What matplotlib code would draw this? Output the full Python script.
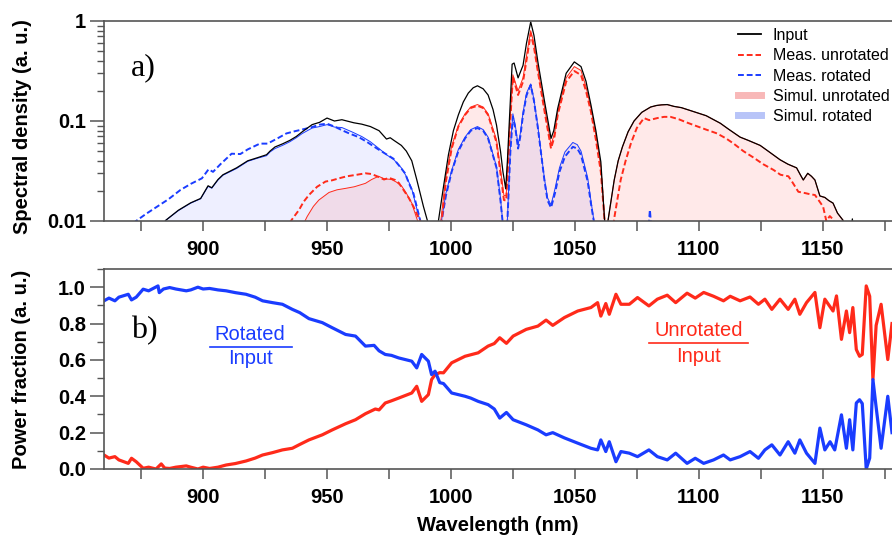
import numpy as np
import matplotlib.pyplot as plt
from matplotlib.lines import Line2D
from matplotlib.ticker import MultipleLocator, FixedLocator, LogLocator, NullFormatter

plt.rcParams['font.family'] = ['Liberation Sans', 'DejaVu Sans']
nan = np.nan

# ---- a) spectra (nan separates the spectral bands) ----
input_wl = [884, 885, 890, 895, 899, 902, 903.5, 906, 908, 913.5, 918, 922, 925.6, 927, 929, 932, 935, 937.6,
            940, 944, 947, 950, 953, 956, 960.8, 964, 967.5, 971, 974, 975.5, 977, 980, 982, 984.2, 986.2,
            988.9, 990.6, 991.2, nan,
            994.5, 995, 997, 999, 1001, 1003, 1005, 1007, 1009, 1010.7, 1013, 1015, 1017, 1018.4, 1020, 1021,
            1022.1, 1022.8, 1023.7, 1024.7, 1025.5, 1027.1, 1029.1, 1030.5, 1032.2, 1033.5, 1035.1, 1037.8,
            1040.4, 1041.5, 1043.1, 1046.5, 1049.8, 1052.5, 1054.5, 1056.5, 1058.5, 1060.5, 1062, 1062.3, nan,
            1062.8, 1063.5, 1065.9, 1067.5, 1069.2, 1071.5, 1073.9, 1077, 1080.6, 1083, 1085, 1087.3, 1090,
            1093, 1098, 1103, 1108.7, 1112, 1116.7, 1120, 1124.8, 1128, 1132.8, 1136, 1139.5, 1141, 1142.2,
            1144, 1145.5, 1146.9, 1148.9, 1150.9, 1152.5, 1154.2, 1156, 1158.2, 1159, nan,
            1161.5, 1162, 1162.5]
input_val = [0.0095, 0.0102, 0.0128, 0.0152, 0.0168, 0.0225, 0.0215, 0.026, 0.029, 0.034, 0.040, 0.043, 0.046,
             0.050, 0.055, 0.059, 0.064, 0.070, 0.078, 0.092, 0.097, 0.107, 0.100, 0.103, 0.096, 0.093, 0.088,
             0.080, 0.066, 0.068, 0.064, 0.057, 0.050, 0.040, 0.026, 0.014, 0.0099, 0.008, nan,
             0.008, 0.0102, 0.022, 0.046, 0.08, 0.115, 0.155, 0.19, 0.215, 0.225, 0.21, 0.182, 0.13, 0.091,
             0.05, 0.031, 0.021, 0.04, 0.115, 0.37, 0.38, 0.27, 0.36, 0.6, 0.98, 0.72, 0.39, 0.156, 0.067, 0.08,
             0.134, 0.30, 0.39, 0.35, 0.25, 0.145, 0.08, 0.039, 0.0102, 0.008, nan,
             0.008, 0.0105, 0.0257, 0.04, 0.055, 0.078, 0.100, 0.122, 0.138, 0.143, 0.145, 0.146, 0.140, 0.136,
             0.124, 0.113, 0.095, 0.083, 0.069, 0.064, 0.057, 0.050, 0.041, 0.037, 0.034, 0.029, 0.0257, 0.030,
             0.028, 0.0257, 0.0178, 0.0172, 0.016, 0.0151, 0.012, 0.0102, 0.008, nan,
             0.008, 0.0105, 0.008]

meas_unrot_wl = [935, 935.4, 938.7, 940.5, 942.7, 946, 949.4, 952, 954.8, 958, 962, 965.5, 968, 970.2, 973, 975,
                 977.5, 979, 980.9, 983, 984.9, 987.6, 988.2, nan,
                 996, 996.3, 998, 1000.3, 1003, 1005.7, 1008, 1010.7, 1013, 1015, 1018.4, 1020, 1021.4, 1022.3,
                 1023.7, 1025, 1027.1, 1029.1, 1030.8, 1032.2, 1033.5, 1035.1, 1037.8, 1040.4, 1041.8, 1043.1,
                 1046.5, 1049.8, 1052.5, 1054.5, 1056.5, 1058.5, 1060.5, 1062, 1062.3, nan,
                 1065.5, 1066, 1068.5, 1070.5, 1072.6, 1075, 1077.9, 1080, 1083.3, 1086, 1088.6, 1092, 1095, 1098,
                 1103, 1107.4, 1111, 1114.1, 1118, 1122.1, 1126, 1130.2, 1133, 1136.2, 1138, 1140.2, 1143, 1145,
                 1146.9, 1148.5, 1150.2, 1151.5, 1152.9, 1154, 1155]
meas_unrot_val = [0.0095, 0.010, 0.0129, 0.0155, 0.0182, 0.022, 0.0248, 0.0255, 0.0267, 0.028, 0.029, 0.030,
                  0.0295, 0.028, 0.026, 0.027, 0.0257, 0.024, 0.0204, 0.017, 0.0139, 0.0099, 0.0085, nan,
                  0.009, 0.0102, 0.025, 0.053, 0.088, 0.115, 0.135, 0.142, 0.135, 0.115, 0.061, 0.03, 0.0162,
                  0.016, 0.078, 0.278, 0.182, 0.247, 0.45, 0.75, 0.55, 0.311, 0.124, 0.053, 0.07, 0.115, 0.247,
                  0.316, 0.288, 0.2, 0.124, 0.065, 0.031, 0.0102, 0.009, nan,
                  0.009, 0.011, 0.0257, 0.04, 0.0594, 0.085, 0.107, 0.102, 0.107, 0.110, 0.110, 0.104, 0.097,
                  0.091, 0.082, 0.0751, 0.067, 0.0594, 0.050, 0.0431, 0.037, 0.0324, 0.029, 0.028, 0.024, 0.0196,
                  0.019, 0.0185, 0.0182, 0.016, 0.0139, 0.010, 0.0112, 0.0105, 0.009]

meas_rot_wl = [872, 872.7, 877, 881.4, 886, 890.8, 895, 899.5, 902.2, 904, 907, 911.5, 915, 918, 922.9, 926, 930,
               933.6, 937, 940, 944, 947, 950, 953, 956, 959, 962.8, 966, 970.2, 973, 976.8, 979, 981.5, 983,
               984.9, 986.5, 987.6, 988, nan,
               996, 996.3, 998, 1000.3, 1003, 1005.7, 1008, 1010.7, 1013, 1015, 1018.4, 1020, 1020.8, 1021, nan,
               1022.6, 1022.8, 1024, 1025, 1026, 1027.1, 1028, 1029.1, 1030.5, 1032.2, 1033.5, 1035.1, 1036.5,
               1037.8, 1039, 1040.4, 1042, 1043.8, 1046, 1049.2, 1051, 1052.5, 1055.2, 1056.5, 1057.6, 1058, nan,
               1079.8, 1080.3, 1080.8]
meas_rot_val = [0.0093, 0.0099, 0.0118, 0.0139, 0.0165, 0.0204, 0.0235, 0.0267, 0.0329, 0.031, 0.037, 0.0471,
                0.0467, 0.052, 0.0594, 0.0594, 0.067, 0.0751, 0.079, 0.0822, 0.087, 0.092, 0.094, 0.088, 0.081,
                0.075, 0.069, 0.062, 0.053, 0.048, 0.042, 0.036, 0.030, 0.024, 0.0188, 0.013, 0.0102, 0.0088, nan,
                0.009, 0.0102, 0.018, 0.031, 0.05, 0.067, 0.08, 0.085, 0.08, 0.067, 0.034, 0.016, 0.0102, 0.009,
                nan,
                0.009, 0.0102, 0.05, 0.110, 0.085, 0.053, 0.07, 0.115, 0.18, 0.229, 0.16, 0.085, 0.045, 0.0248,
                0.016, 0.0136, 0.019, 0.031, 0.044, 0.0552, 0.053, 0.0457, 0.0248, 0.015, 0.0102, 0.009, nan,
                0.009, 0.0129, 0.009]

sim_unrot_wl = [940.5, 941.1, 942, 944.5, 946.7, 950.8, 954, 957.5, 961, 965.5, 968, 970.8, 973, 976, 978, 980.2,
                982, 984.2, 986, 986.9, nan,
                995.5, 996, 998, 1000.3, 1003, 1005.7, 1008, 1010.7, 1013, 1015, 1018.4, 1020, 1021.4, 1022.3,
                1023.7, 1025, 1027.1, 1029.1, 1030.8, 1032.2, 1033.5, 1035.1, 1037.8, 1040.4, 1041.8, 1043.1,
                1046.5, 1049.8, 1052.5, 1054.5, 1056.5, 1058.5, 1060.5, 1062, 1062.4, nan,
                1062.8, 1063.5, 1065.9, 1067.5, 1069.2, 1071.5, 1073.9, 1077, 1080.6, 1083, 1085, 1087.3, 1090,
                1093, 1098, 1103, 1108.7, 1112, 1116.7, 1120, 1124.8, 1128, 1132.8, 1136, 1139.5, 1141, 1142.2,
                1144, 1145.5, 1146.9, 1148.9, 1150.9, 1152.5, 1154.2, 1156, 1158.2, 1159]
sim_unrot_val = [0.0095, 0.010, 0.0111, 0.014, 0.0162, 0.0193, 0.0205, 0.0212, 0.022, 0.0238, 0.026, 0.028,
                 0.0265, 0.026, 0.0245, 0.0222, 0.019, 0.0151, 0.011, 0.0095, nan,
                 0.009, 0.0105, 0.028, 0.056, 0.09, 0.118, 0.138, 0.146, 0.138, 0.118, 0.065, 0.033, 0.018, 0.018,
                 0.09, 0.29, 0.2, 0.27, 0.5, 0.80, 0.6, 0.33, 0.135, 0.058, 0.075, 0.122, 0.27, 0.35, 0.32, 0.22,
                 0.135, 0.072, 0.035, 0.011, 0.009, nan,
                 0.008, 0.0105, 0.0257, 0.04, 0.055, 0.078, 0.100, 0.122, 0.138, 0.143, 0.145, 0.146, 0.140, 0.136,
                 0.124, 0.113, 0.095, 0.083, 0.069, 0.064, 0.057, 0.050, 0.041, 0.037, 0.034, 0.029, 0.0257, 0.030,
                 0.028, 0.0257, 0.0178, 0.0172, 0.016, 0.0151, 0.012, 0.0102, 0.008]

sim_rot_wl = [884, 885, 890, 895, 899, 902, 903.5, 906, 908, 913.5, 918, 922, 925.6, 927, 929, 932, 935, 937.6,
              940, 944, 947, 950, 953, 956, 960, 964, 967.5, 971, 974, 977, 980, 982, 984.2, 986, 987.8, nan,
              996, 996.3, 998, 1000.3, 1003, 1005.7, 1008, 1010.7, 1013, 1015, 1018.4, 1020, 1020.8, 1021, nan,
              1022.6, 1022.8, 1024, 1025, 1026, 1027.1, 1028, 1029.1, 1030.5, 1032.2, 1033.5, 1035.1, 1036.5,
              1037.8, 1039, 1040.4, 1042, 1043.8, 1046, 1049.2, 1051, 1052.5, 1055.2, 1056.5, 1057.6, 1058]
sim_rot_val = [0.0095, 0.0102, 0.0127, 0.0151, 0.0167, 0.0222, 0.0213, 0.0257, 0.0287, 0.0335, 0.0395, 0.0425,
               0.045, 0.049, 0.053, 0.057, 0.062, 0.068, 0.075, 0.085, 0.088, 0.092, 0.087, 0.086, 0.078, 0.07,
               0.062, 0.053, 0.046, 0.041, 0.034, 0.028, 0.021, 0.014, 0.0095, nan,
               0.009, 0.0105, 0.019, 0.032, 0.052, 0.069, 0.082, 0.088, 0.082, 0.069, 0.035, 0.017, 0.0105, 0.009,
               nan,
               0.009, 0.0105, 0.055, 0.118, 0.09, 0.058, 0.075, 0.122, 0.19, 0.235, 0.165, 0.088, 0.046, 0.026,
               0.017, 0.0145, 0.021, 0.034, 0.049, 0.061, 0.058, 0.05, 0.027, 0.016, 0.0105, 0.009]

# ---- b) power fractions ----
rot_wl = [860, 862, 864.4, 866, 869.8, 871.1, 873, 875.8, 878, 881.8, 882.3, 884, 886.5, 889, 893.2, 895, 897.9,
          900, 902.6, 906, 909.3, 913, 917.3, 921, 924, 928, 932, 936, 939, 942.7, 948.1, 952.1, 957.5, 961.5,
          965.5, 969, 971, 973.5, 976, 978.9, 984.2, 986.2, 988.2, 990.9, 992.2, 993.6, 995.5, 997, 1000.3,
          1005.7, 1008, 1011, 1015, 1017.5, 1019.7, 1022.4, 1025.1, 1030.4, 1035.1, 1038.4, 1041.1, 1045.8,
          1051.2, 1056.5, 1059.2, 1060.5, 1062.5, 1063.9, 1066.6, 1068.6, 1072, 1075.3, 1079.9, 1083.3, 1087.3,
          1090.7, 1095.3, 1098.6, 1102, 1106, 1110, 1112.7, 1116.7, 1120.7, 1124.1, 1126.7, 1129.5, 1132.8,
          1136.1, 1138.8, 1140.8, 1143.5, 1146.9, 1148.9, 1150.9, 1153, 1154.9, 1157.6, 1159.6, 1160.9, 1162.2,
          1163.6, 1164.9, 1166, 1167.6, 1169, 1170.3, 1171.6, 1173.6, 1176.3, 1178]
rot_val = [0.925, 0.94, 0.925, 0.945, 0.961, 0.93, 0.945, 0.989, 0.98, 1.007, 0.97, 0.99, 0.998, 0.99, 0.98,
           0.985, 1.0, 0.99, 0.993, 0.985, 0.98, 0.97, 0.961, 0.945, 0.925, 0.915, 0.906, 0.878, 0.86, 0.827,
           0.805, 0.777, 0.740, 0.731, 0.676, 0.68, 0.65, 0.630, 0.625, 0.611, 0.593, 0.556, 0.630, 0.593, 0.519,
           0.538, 0.475, 0.47, 0.418, 0.400, 0.39, 0.372, 0.354, 0.33, 0.280, 0.311, 0.271, 0.243, 0.215, 0.188,
           0.2, 0.171, 0.142, 0.114, 0.105, 0.16, 0.096, 0.15, 0.040, 0.096, 0.087, 0.068, 0.105, 0.068, 0.050,
           0.087, 0.031, 0.059, 0.031, 0.050, 0.077, 0.05, 0.068, 0.096, 0.059, 0.105, 0.133, 0.077, 0.15, 0.087,
           0.16, 0.087, 0.031, 0.225, 0.105, 0.15, 0.105, 0.298, 0.114, 0.271, 0.105, 0.363, 0.381, 0.36, 0.0,
           0.06, 0.492, 0.34, 0.114, 0.4, 0.2]

unrot_wl = [860, 862, 864.4, 866, 869.8, 871.1, 873, 875.8, 878, 881, 883.1, 884.5, 886.5, 889, 893.2, 895, 897.9,
            900, 902.6, 906, 909.3, 913, 917.3, 921, 924, 928, 932, 936, 939, 942.7, 948.1, 952.1, 957.5, 961.5,
            965.5, 969.5, 971, 973.5, 976, 978.9, 984.2, 986.2, 988.2, 990.9, 992.2, 993.6, 995.5, 997, 1000.3,
            1005.7, 1011, 1015, 1017.5, 1019.7, 1022.4, 1025.1, 1030.4, 1035.1, 1038.4, 1041.1, 1045.8, 1051.2,
            1056.5, 1059.2, 1060.5, 1062.5, 1063.9, 1066.6, 1068.6, 1072, 1075.3, 1079.9, 1083.3, 1087.3, 1090.7,
            1095.3, 1098.6, 1102, 1106, 1110, 1112.7, 1116.7, 1120.7, 1124.1, 1126.7, 1129.5, 1132.8, 1136.1,
            1138.8, 1140.8, 1143.5, 1146.9, 1148.9, 1150.9, 1154.2, 1155.6, 1157.6, 1159.6, 1160.9, 1162.2,
            1163.6, 1164.9, 1166, 1167.6, 1169, 1170.3, 1171.6, 1173.6, 1176.3, 1178]
unrot_val = [0.077, 0.06, 0.068, 0.05, 0.031, 0.059, 0.04, 0.004, 0.01, 0.0, 0.028, 0.005, 0.003, 0.01, 0.017,
             0.01, 0.0, 0.01, 0.003, 0.01, 0.022, 0.03, 0.044, 0.06, 0.077, 0.09, 0.105, 0.114, 0.135, 0.160,
             0.188, 0.215, 0.249, 0.271, 0.304, 0.330, 0.325, 0.363, 0.375, 0.390, 0.418, 0.455, 0.372, 0.409,
             0.492, 0.519, 0.53, 0.529, 0.584, 0.620, 0.639, 0.676, 0.69, 0.722, 0.691, 0.731, 0.768, 0.786,
             0.819, 0.790, 0.833, 0.869, 0.888, 0.915, 0.841, 0.91, 0.851, 0.961, 0.906, 0.906, 0.943, 0.897,
             0.934, 0.956, 0.915, 0.967, 0.94, 0.971, 0.95, 0.925, 0.95, 0.925, 0.946, 0.906, 0.934, 0.878, 0.934,
             0.878, 0.934, 0.851, 0.915, 0.971, 0.777, 0.934, 0.869, 0.952, 0.713, 0.869, 0.75, 0.888, 0.657,
             0.620, 0.63, 1.007, 0.95, 0.492, 0.79, 0.906, 0.602, 0.8]

RED = '#ff2a1a'
BLUE = '#1a3cff'
SPINE = '#555555'

fig = plt.figure(figsize=(8.92, 5.39), dpi=100)
ax1 = fig.add_axes([104 / 892, 1 - 221 / 539, 1 - 104 / 892, 200 / 539])
ax2 = fig.add_axes([104 / 892, 1 - 469 / 539, 1 - 104 / 892, 200 / 539])

# top panel
ax1.set_yscale('log')
ax1.fill_between(sim_rot_wl, sim_rot_val, 1e-3, color=(0.35, 0.4, 1.0), alpha=0.1, lw=0)
ax1.fill_between(sim_unrot_wl, sim_unrot_val, 1e-3, color=(1.0, 0.3, 0.3), alpha=0.12, lw=0)
ax1.plot(sim_rot_wl, sim_rot_val, color=BLUE, lw=0.7)
ax1.plot(sim_unrot_wl, sim_unrot_val, color=RED, lw=0.7)
ax1.plot(meas_rot_wl, meas_rot_val, color=BLUE, lw=1.4, dashes=(3, 1.5))
ax1.plot(meas_unrot_wl, meas_unrot_val, color=RED, lw=1.4, dashes=(3, 1.5))
ax1.plot(input_wl, input_val, color='black', lw=0.9)
ax1.set_ylim(0.01, 1)
ax1.yaxis.set_major_locator(FixedLocator([0.01, 0.1, 1]))
ax1.set_yticklabels(['0.01', '0.1', '1'])
ax1.yaxis.set_minor_locator(LogLocator(base=10, subs=np.arange(2, 10)))
ax1.yaxis.set_minor_formatter(NullFormatter())
ax1.set_ylabel('Spectral density (a. u.)', fontsize=14.5, fontweight='bold')
ax1.yaxis.set_label_coords(-0.092, 0.47)

handles = [Line2D([], [], color='black', lw=1.3),
           Line2D([], [], color=RED, lw=1.4, dashes=(3, 1.5)),
           Line2D([], [], color=BLUE, lw=1.4, dashes=(3, 1.5)),
           Line2D([], [], color='#f8b8b8', lw=5),
           Line2D([], [], color='#b8c4f8', lw=5)]
ax1.legend(handles, ['Input', 'Meas. unrotated', 'Meas. rotated', 'Simul. unrotated', 'Simul. rotated'],
           loc='upper left', bbox_to_anchor=(0.805, 0.965), frameon=False, fontsize=11.5, borderpad=0,
           borderaxespad=0, handlelength=1.45, handletextpad=0.7, labelspacing=0.33)

# bottom panel
ax2.plot(unrot_wl, unrot_val, color=RED, lw=2.3)
ax2.plot(rot_wl, rot_val, color=BLUE, lw=2.3)
ax2.set_ylim(0, 1.1)
ax2.yaxis.set_major_locator(MultipleLocator(0.2))
ax2.yaxis.set_minor_locator(MultipleLocator(0.1))
ax2.yaxis.set_major_formatter(lambda v, p: f'{v:.1f}')
ax2.set_ylabel('Power fraction (a. u.)', fontsize=14.5, fontweight='bold')
ax2.yaxis.set_label_coords(-0.093, 0.5)
ax2.set_xlabel('Wavelength (nm)', fontsize=14.5, fontweight='bold', labelpad=6)

ax2.text(919, 0.74, 'Rotated', color=BLUE, fontsize=14.5, ha='center', va='center')
ax2.plot([902.6, 935.9], [0.673, 0.673], color=BLUE, lw=1.2)
ax2.text(919, 0.605, 'Input', color=BLUE, fontsize=14.5, ha='center', va='center')
ax2.text(1100, 0.764, 'Unrotated', color=RED, fontsize=14.5, ha='center', va='center')
ax2.plot([1080, 1120], [0.694, 0.694], color=RED, lw=1.2)
ax2.text(1100, 0.62, 'Input', color=RED, fontsize=14.5, ha='center', va='center')

# panel tags
fig.text(131 / 892, 1 - 68 / 539, 'a)', fontsize=23, family='Liberation Serif', va='center')
fig.text(131 / 892, 1 - 331 / 539, 'b)', fontsize=23, family='Liberation Serif', va='center')

for ax in (ax1, ax2):
    ax.set_xlim(860, 1178)
    ax.xaxis.set_major_locator(MultipleLocator(50))
    ax.xaxis.set_minor_locator(MultipleLocator(25))
    ax.tick_params(axis='x', which='both', direction='out', length=7, width=1.1, color=SPINE,
                   labelsize=14.5, pad=7)
    ax.tick_params(axis='y', which='major', direction='out', length=10, width=1.1, color=SPINE,
                   labelsize=14.5, pad=3)
    ax.tick_params(axis='y', which='minor', direction='out', length=5, width=1.0, color=SPINE)
    for lab in ax.get_xticklabels() + ax.get_yticklabels():
        lab.set_fontweight('bold')
    ax.spines['right'].set_visible(False)
    for s in ('left', 'top', 'bottom'):
        ax.spines[s].set_color(SPINE)
        ax.spines[s].set_linewidth(1.2)

fig.savefig('out.png', dpi=100)
